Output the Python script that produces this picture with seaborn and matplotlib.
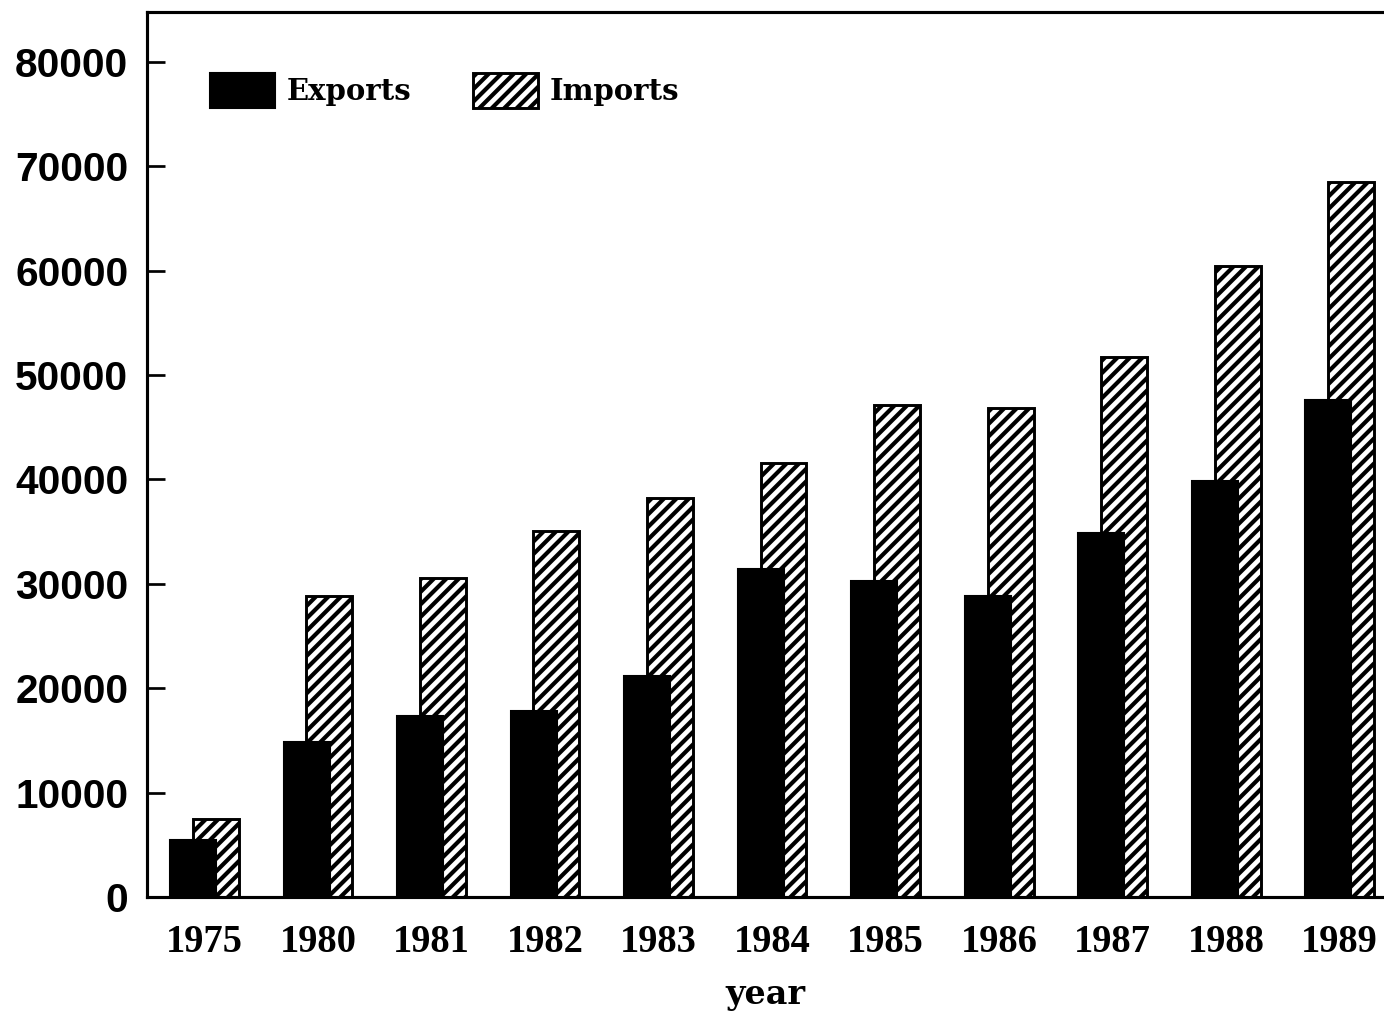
import pandas as pd
import matplotlib
matplotlib.use("Agg")
import matplotlib.pyplot as plt
import seaborn as sns
from matplotlib.patches import Patch

# dados
anos = ["1975", "1980", "1981", "1982", "1983", "1984", "1985", "1986", "1987", "1988", "1989"]
exports = [5500, 14800, 17300, 17800, 21200, 31400, 30300, 28800, 34900, 39800, 47600]
imports = [7500, 28800, 30600, 35100, 38200, 41600, 47100, 46800, 51700, 60400, 68500]
yticks = [0, 10000, 20000, 30000, 40000, 50000, 60000, 70000, 80000]

df_exp = pd.DataFrame({"year": anos, "value": exports})
df_imp = pd.DataFrame({"year": anos, "value": imports})

sns.set_style("ticks")
# tudo em preto puro
plt.rcParams["text.color"] = "black"
plt.rcParams["axes.labelcolor"] = "black"
plt.rcParams["xtick.color"] = "black"
plt.rcParams["ytick.color"] = "black"
plt.rcParams["hatch.linewidth"] = 2.0
plt.rcParams["hatch.color"] = "black"

fig = plt.figure(figsize=(1384 / 150, 1014 / 150), dpi=150)
ax = fig.add_axes([147 / 1384, 1 - 897 / 1014, 1 - 147 / 1384, 885 / 1014])

largura = 0.405
desloc = 0.1

# imports primeiro (fica atras)
sns.barplot(data=df_imp, x="year", y="value", order=anos, width=largura, color="white",
            saturation=1, edgecolor="black", linewidth=1.4, hatch="////", errorbar=None, ax=ax)
for p in ax.patches:
    p.set_x(p.get_x() + desloc)
n_imp = len(ax.patches)

sns.barplot(data=df_exp, x="year", y="value", order=anos, width=largura, color="black",
            saturation=1, edgecolor="black", linewidth=1.0, errorbar=None, ax=ax)
for p in ax.patches[n_imp:]:
    p.set_x(p.get_x() - desloc)

ax.set_xlim(-0.507, 10.39)
ax.set_ylim(0, 84770)
ax.set_yticks(yticks)
ax.set_yticklabels([str(v) for v in yticks])

for s in ["left", "bottom", "top"]:
    ax.spines[s].set_linewidth(1.5)
    ax.spines[s].set_color("black")
ax.spines["right"].set_visible(False)

ax.tick_params(axis="y", direction="in", length=8.5, width=1.3, pad=9)
ax.tick_params(axis="x", length=0, pad=13)
for t in ax.get_yticklabels():
    t.set_fontfamily("Liberation Sans")
    t.set_fontweight("bold")
    t.set_fontsize(19.5)
for t in ax.get_xticklabels():
    t.set_fontfamily("Liberation Serif")
    t.set_fontweight("bold")
    t.set_fontsize(18.5)

ax.set_ylabel("")
ax.set_xlabel("year", fontfamily="DejaVu Serif", fontweight="bold", fontsize=16, labelpad=8)

handles = [Patch(facecolor="black", edgecolor="black", label="Exports"),
           Patch(facecolor="white", edgecolor="black", hatch="////", linewidth=1.4, label="Imports")]
ax.legend(handles=handles, loc="upper left", bbox_to_anchor=(0.051, 0.931), ncol=2,
          frameon=False, borderaxespad=0, borderpad=0, handlelength=2.24, handleheight=1.45,
          handletextpad=0.4, columnspacing=2.1,
          prop={"family": "DejaVu Serif", "weight": "bold", "size": 14})

plt.savefig("out.png", dpi=150)
